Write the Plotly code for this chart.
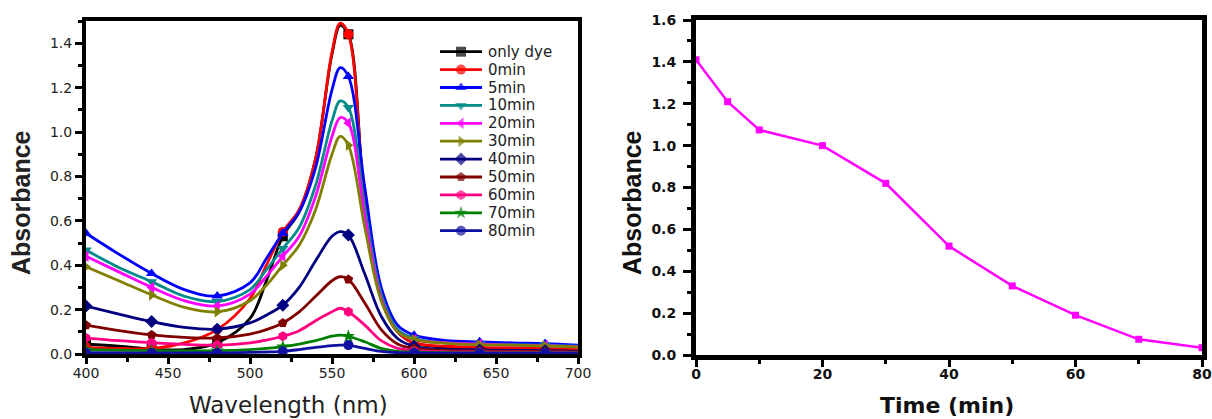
import plotly.graph_objects as go

# ---- UV-vis spectra during degradation ----
wavelength = [400, 420, 440, 460, 480, 500, 510, 520, 530, 540, 550, 555, 560,
              570, 580, 590, 600, 620, 640, 660, 680, 700]
marker_wavelengths = [400, 440, 480, 520, 560, 600, 640, 680]

only_dye = [0.045, 0.035, 0.022, 0.02, 0.05, 0.16, 0.33, 0.53, 0.64, 0.88, 1.35, 1.48, 1.44,
            0.68, 0.25, 0.10, 0.05, 0.03, 0.025, 0.02, 0.02, 0.015]
min_0 = [0.03, 0.025, 0.025, 0.05, 0.11, 0.25, 0.40, 0.55, 0.65, 0.88, 1.36, 1.49, 1.44,
         0.68, 0.25, 0.10, 0.05, 0.035, 0.03, 0.028, 0.025, 0.02]
min_5 = [0.544, 0.45, 0.363, 0.29, 0.261, 0.32, 0.43, 0.544, 0.64, 0.84, 1.19, 1.29, 1.25,
         0.75, 0.30, 0.13, 0.085, 0.06, 0.055, 0.05, 0.047, 0.04]
min_10 = [0.468, 0.39, 0.326, 0.26, 0.236, 0.29, 0.38, 0.475, 0.57, 0.76, 1.05, 1.14, 1.11,
          0.66, 0.27, 0.11, 0.07, 0.05, 0.045, 0.042, 0.04, 0.035]
min_20 = [0.44, 0.37, 0.30, 0.24, 0.216, 0.27, 0.35, 0.44, 0.53, 0.71, 0.98, 1.065, 1.04,
          0.62, 0.25, 0.10, 0.065, 0.05, 0.045, 0.04, 0.038, 0.033]
min_30 = [0.393, 0.33, 0.266, 0.21, 0.19, 0.24, 0.31, 0.40, 0.49, 0.65, 0.90, 0.98, 0.94,
          0.57, 0.24, 0.10, 0.065, 0.048, 0.042, 0.04, 0.036, 0.032]
min_40 = [0.216, 0.18, 0.146, 0.12, 0.112, 0.14, 0.175, 0.22, 0.30, 0.42, 0.53, 0.551, 0.536,
          0.36, 0.17, 0.07, 0.035, 0.02, 0.018, 0.016, 0.015, 0.013]
min_50 = [0.13, 0.105, 0.086, 0.075, 0.072, 0.09, 0.11, 0.14, 0.19, 0.26, 0.33, 0.348, 0.336,
          0.23, 0.11, 0.045, 0.025, 0.015, 0.013, 0.012, 0.011, 0.01]
min_60 = [0.072, 0.06, 0.051, 0.043, 0.04, 0.05, 0.063, 0.08, 0.105, 0.15, 0.19, 0.206, 0.19,
          0.13, 0.06, 0.025, 0.015, 0.01, 0.009, 0.008, 0.008, 0.007]
min_70 = [0.02, 0.017, 0.015, 0.014, 0.015, 0.02, 0.025, 0.033, 0.045, 0.06, 0.08, 0.085, 0.08,
          0.055, 0.025, 0.012, 0.008, 0.006, 0.005, 0.005, 0.005, 0.005]
min_80 = [0.006, 0.005, 0.005, 0.005, 0.005, 0.007, 0.009, 0.012, 0.02, 0.03, 0.038, 0.04, 0.04,
          0.025, 0.012, 0.006, 0.005, 0.004, 0.004, 0.004, 0.004, 0.004]

series_names = ["only dye", "0min", "5min", "10min", "20min", "30min",
                "40min", "50min", "60min", "70min", "80min"]
series_values = [only_dye, min_0, min_5, min_10, min_20, min_30,
                 min_40, min_50, min_60, min_70, min_80]
series_colors = ["#000000", "#FF0000", "#0000FF", "#008B8B", "#FF00FF", "#808000",
                 "#000080", "#800000", "#FF0080", "#008000", "#1010A0"]
series_symbols = ["square", "circle", "triangle-up", "triangle-down", "triangle-left",
                  "triangle-right", "diamond", "pentagon", "hexagon", "star", "circle"]

# ---- absorbance at the peak versus irradiation time ----
time_min = [0, 5, 10, 20, 30, 40, 50, 60, 70, 80]
peak_absorbance = [1.41, 1.21, 1.075, 1.0, 0.82, 0.52, 0.33, 0.19, 0.075, 0.035]

ARIAL = "Liberation Sans, Arial, sans-serif"
WIDE = "DejaVu Sans, Verdana, sans-serif"
W, H = 1212, 419


def px_x(p):
    return p / W


def px_y(p):
    return 1 - p / H


fig = go.Figure()

marker_idx = [wavelength.index(w) for w in marker_wavelengths]
for name, vals, col, sym in zip(series_names, series_values, series_colors, series_symbols):
    fig.add_trace(go.Scatter(
        x=wavelength, y=vals, mode="lines", name=name, showlegend=False,
        line=dict(color=col, width=2.8, shape="spline", smoothing=1),
        xaxis="x", yaxis="y"))
    fig.add_trace(go.Scatter(
        x=[wavelength[i] for i in marker_idx], y=[vals[i] for i in marker_idx],
        mode="markers", name=name, showlegend=False,
        marker=dict(color=col, symbol=sym, size=10, line=dict(width=0)),
        xaxis="x", yaxis="y"))

fig.add_trace(go.Scatter(
    x=time_min, y=peak_absorbance, mode="lines+markers", showlegend=False,
    line=dict(color="#FF00FF", width=2.5),
    marker=dict(color="#FF00FF", symbol="square", size=7),
    xaxis="x2", yaxis="y2"))

# Key for the spectra: drawn on a hidden full-page axis whose units are pixels
KEY_X0, KEY_X1, KEY_TEXT_X = 440, 482, 486
KEY_Y0, KEY_DY = 51.7, 17.9
annotations = []
for i, (name, col, sym) in enumerate(zip(series_names, series_colors, series_symbols)):
    yk = KEY_Y0 + KEY_DY * i
    fig.add_trace(go.Scatter(
        x=[KEY_X0, (KEY_X0 + KEY_X1) / 2, KEY_X1], y=[yk, yk, yk],
        mode="lines+markers", showlegend=False, hoverinfo="skip",
        line=dict(color=col, width=2.8),
        marker=dict(color=col, symbol=sym, size=[0, 10, 0], line=dict(width=0)),
        xaxis="x3", yaxis="y3", cliponaxis=False))
    annotations.append(dict(text=name, x=KEY_TEXT_X, y=yk, xref="x3", yref="y3",
                            xanchor="left", yanchor="middle", showarrow=False,
                            font=dict(family=WIDE, size=15, color="#222")))

# Axis titles
annotations += [
    dict(text="Wavelength (nm)", x=px_x(288), y=px_y(405), xref="paper", yref="paper",
         xanchor="center", yanchor="middle", showarrow=False,
         font=dict(family=WIDE, size=23, color="#222")),
    dict(text="<b>Absorbance</b>", x=px_x(21), y=px_y(203), xref="paper", yref="paper",
         xanchor="center", yanchor="middle", showarrow=False, textangle=-90,
         font=dict(family=ARIAL, size=25, color="#222")),
    dict(text="<b>Absorbance</b>", x=px_x(632), y=px_y(203), xref="paper", yref="paper",
         xanchor="center", yanchor="middle", showarrow=False, textangle=-90,
         font=dict(family=ARIAL, size=25, color="#111")),
    dict(text="<b>Time (min)</b>", x=px_x(947), y=px_y(405), xref="paper", yref="paper",
         xanchor="center", yanchor="middle", showarrow=False,
         font=dict(family=WIDE, size=22, color="#111")),
]


def frame(linewidth, ticklen):
    return dict(showline=True, linewidth=linewidth, linecolor="black", mirror=True,
                ticks="outside", tickwidth=3, ticklen=ticklen, tickcolor="black",
                showgrid=False, zeroline=False, automargin=False)


left_tick = dict(family=WIDE, size=14, color="#222")
right_tick = dict(family=WIDE, size=14, color="#111", weight="bold")

fig.update_layout(
    template="none",
    width=W, height=H,
    margin=dict(l=0, r=0, t=0, b=0),
    paper_bgcolor="white", plot_bgcolor="rgba(0,0,0,0)",
    font=dict(family=ARIAL, color="#222"),
    showlegend=False,
    annotations=annotations,
    xaxis=dict(domain=[px_x(86), px_x(578)], range=[400, 700], dtick=50,
               minor=dict(ticks="outside", dtick=25, ticklen=4, tickwidth=3, tickcolor="black"),
               tickfont=left_tick, ticklabelstandoff=-3, anchor="y", **frame(4, 6)),
    yaxis=dict(domain=[px_y(354), px_y(21)], range=[0, 1.5], dtick=0.2, tickformat=".1f",
               minor=dict(ticks="outside", dtick=0.1, ticklen=4, tickwidth=3, tickcolor="black"),
               tickfont=left_tick, anchor="x", **frame(4, 7)),
    xaxis2=dict(domain=[px_x(696), px_x(1202)], range=[0, 80], dtick=20,
                minor=dict(ticks="outside", dtick=10, ticklen=4, tickwidth=3, tickcolor="black"),
                tickfont=right_tick, ticklabelstandoff=-5, anchor="y2", **frame(5, 7)),
    yaxis2=dict(domain=[px_y(355), px_y(20)], range=[0, 1.6], dtick=0.2, tickformat=".1f",
                minor=dict(ticks="outside", dtick=0.1, ticklen=4, tickwidth=3, tickcolor="black"),
                tickfont=right_tick, ticklabelstandoff=4, anchor="x2", **frame(5, 8)),
    xaxis3=dict(domain=[0, 1], range=[0, W], visible=False, fixedrange=True, anchor="y3"),
    yaxis3=dict(domain=[0, 1], range=[H, 0], visible=False, fixedrange=True, anchor="x3"),
)

fig.write_html("out.html")
